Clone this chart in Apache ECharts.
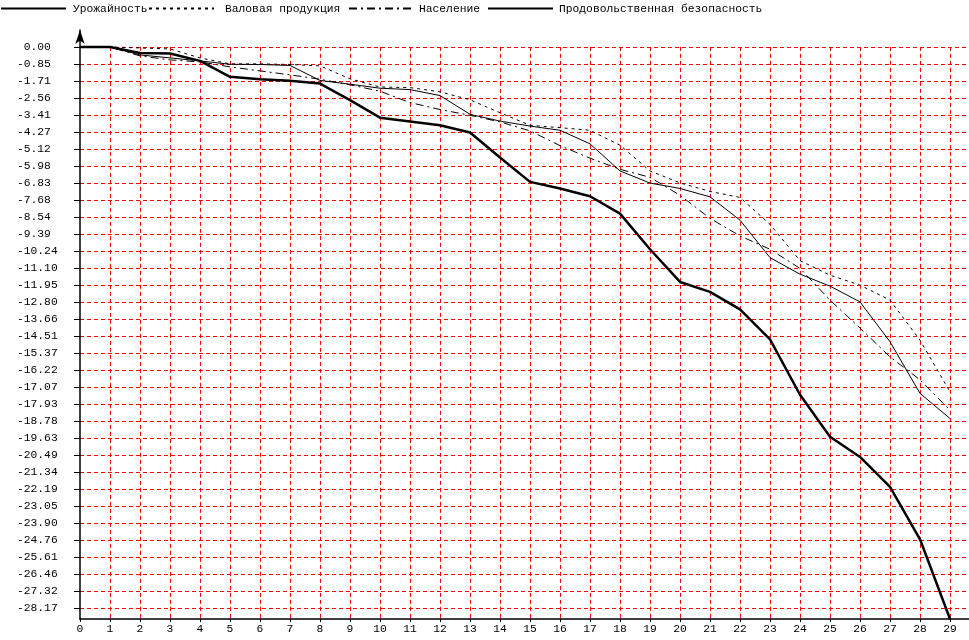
<!DOCTYPE html>
<html><head><meta charset="utf-8">
<script src="https://cdn.jsdelivr.net/npm/echarts@6/dist/echarts.min.js"></script>
<style>html,body{margin:0;padding:0;background:#fff}#c{width:969px;height:640px}</style>
</head><body><div id="c"></div>
<script>
const xCategories = [0,1,2,3,4,5,6,7,8,9,10,11,12,13,14,15,16,17,18,19,20,21,22,23,24,25,26,27,28,29];
const yieldValues = [0,0,-0.40,-0.55,-0.70,-0.87,-0.88,-0.93,-1.68,-1.87,-2.07,-2.14,-2.44,-3.38,-3.72,-3.97,-4.18,-4.86,-6.22,-6.83,-7.10,-7.52,-8.69,-10.57,-11.40,-12.00,-12.79,-14.79,-17.38,-18.64];
const grossValues = [0,0,-0.05,-0.10,-0.55,-0.85,-0.85,-0.88,-0.95,-1.60,-2.01,-2.04,-2.25,-2.65,-3.30,-3.93,-4.05,-4.18,-4.93,-6.22,-6.82,-7.25,-7.55,-8.90,-10.72,-11.45,-11.95,-12.70,-14.71,-17.30];
const populationValues = [0,0,-0.45,-0.65,-0.75,-1.00,-1.20,-1.40,-1.62,-1.90,-2.22,-2.79,-3.14,-3.43,-3.76,-4.21,-4.95,-5.58,-6.14,-6.54,-7.44,-8.60,-9.48,-10.15,-11.11,-12.70,-14.10,-15.55,-16.70,-18.22];
const foodSecurityValues = [0,0,-0.30,-0.33,-0.70,-1.50,-1.62,-1.70,-1.84,-2.67,-3.55,-3.74,-3.93,-4.29,-5.55,-6.77,-7.10,-7.49,-8.36,-10.15,-11.79,-12.29,-13.17,-14.67,-17.45,-19.56,-20.57,-22.07,-24.70,-28.70];
const yTickLabels = [' 0.00','-0.85','-1.71','-2.56','-3.41','-4.27','-5.12','-5.98','-6.83','-7.68','-8.54','-9.39','-10.24','-11.10','-11.95','-12.80','-13.66','-14.51','-15.37','-16.22','-17.07','-17.93','-18.78','-19.63','-20.49','-21.34','-22.19','-23.05','-23.90','-24.76','-25.61','-26.46','-27.32','-28.17'];
const seriesNames = ['Урожайность','Валовая продукция','Население','Продовольственная безопасность'];

const FONT = 'Liberation Mono';
const FS = 11.3;
const yTickValues = yTickLabels.map(Number);
const pair = arr => xCategories.map((x, i) => [x, arr[i]]);
const X_MAX = 29.633, Y_MIN = -28.7, Y_MAX = 0.85;
const legendLeft = [0, 148, 348, 487];
const legendTextGap = [2, 6, 0, 1];

const chart = echarts.init(document.getElementById('c'), null, {renderer: 'canvas'});
const mk = (name, data, width, type) => ({
  name, type: 'line', data: pair(data), xAxisIndex: 0, yAxisIndex: 0,
  symbol: 'none', showSymbol: false, z: width > 2 ? 5 : 4,
  lineStyle: {color: '#000', width, type},
  itemStyle: {color: '#000'},
  emphasis: {disabled: true}
});
chart.setOption({
  animation: false,
  backgroundColor: '#fff',
  legend: seriesNames.map((n, i) => ({
    left: legendLeft[i], top: 3, itemWidth: 65, itemHeight: 14, padding: 0,
    itemStyle: {opacity: 0},
    textStyle: {fontFamily: FONT, fontSize: FS, color: '#000', padding: [0, 0, 0, legendTextGap[i]]},
    data: [n]
  })),
  grid: [
    {left: 80, right: 0, top: 30, bottom: 21},
    {left: 80, right: 0, top: 46.9, bottom: 21}
  ],
  xAxis: [
    {gridIndex: 0, type: 'value', min: 0, max: X_MAX,
     axisLine: {onZero: false, lineStyle: {color: '#000', width: 1.5}},
     axisTick: {customValues: xCategories, length: 3, lineStyle: {color: '#000'}},
     axisLabel: {customValues: xCategories, margin: 5, fontFamily: FONT, fontSize: FS, color: '#000'},
     splitLine: {show: false}},
    {gridIndex: 1, type: 'value', min: 0, max: X_MAX,
     axisLine: {show: false}, axisTick: {show: false, customValues: xCategories.slice(1)},
     axisLabel: {show: false},
     splitLine: {show: true, lineStyle: {color: '#ff0000', type: [4, 3], width: 1}}}
  ],
  yAxis: [
    {gridIndex: 0, type: 'value', min: Y_MIN, max: Y_MAX,
     axisLine: {show: true, onZero: false, symbol: ['none', 'arrow'], symbolSize: [7, 14], lineStyle: {color: '#000', width: 1.5}},
     axisTick: {show: true, customValues: yTickValues, length: 6, lineStyle: {color: '#000'}},
     axisLabel: {customValues: yTickValues, margin: 63, align: 'left', fontFamily: FONT, fontSize: FS, color: '#000',
       formatter: v => { const i = yTickValues.indexOf(v); return i >= 0 ? yTickLabels[i] : v.toFixed(2); }},
     splitLine: {show: true, lineStyle: {color: '#ff0000', type: [4, 3], width: 1}}},
    {gridIndex: 1, type: 'value', min: Y_MIN, max: 0, show: false, splitLine: {show: false}}
  ],
  series: [
    mk(seriesNames[0], yieldValues, 1, 'solid'),
    mk(seriesNames[1], grossValues, 1, [3, 4]),
    mk(seriesNames[2], populationValues, 1, [8, 4, 2, 4]),
    mk(seriesNames[3], foodSecurityValues, 2.5, 'solid')
  ]
});
</script></body></html>
